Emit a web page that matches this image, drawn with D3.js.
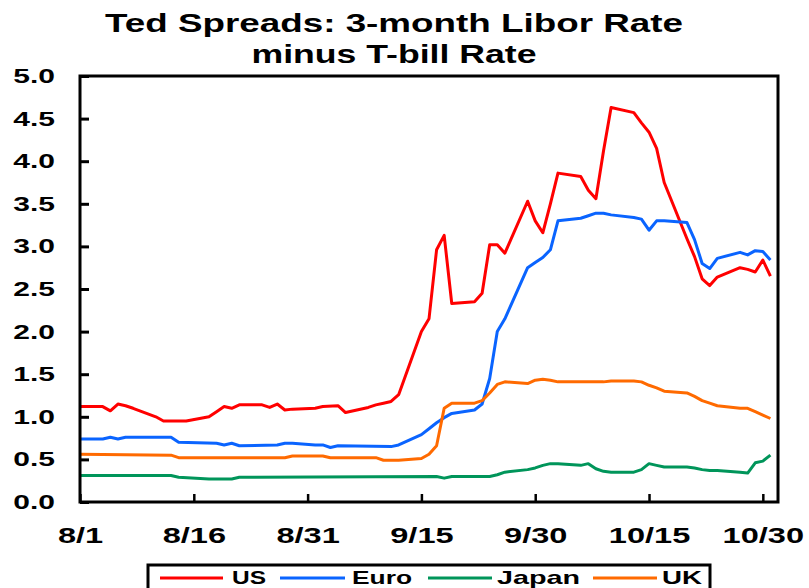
<!DOCTYPE html>
<html>
    <head>
        <meta charset="utf-8">
        <script src="https://d3js.org/d3.v7.min.js"></script>
        <style>
            body { margin: 0; background: #fff; }
            text { font-family: "Liberation Sans", Arial, sans-serif; font-weight: bold; }
        </style>
    </head>
    <body>
        <svg width="809" height="588"></svg>
        <script>
            // Values (business days, 2008)
            var usDates = ["8/1","8/4","8/5","8/6","8/7","8/8","8/11","8/12","8/15","8/18","8/19","8/20","8/21","8/22",
                "8/25","8/26","8/27","8/28","8/29","9/1","9/2","9/4","9/5","9/8","9/9","9/10","9/11","9/12",
                "9/15","9/16","9/17","9/18","9/19","9/22","9/23","9/24","9/25","9/26","9/29","9/30","10/1","10/2","10/3",
                "10/6","10/7","10/8","10/9","10/10","10/13","10/14","10/15","10/16","10/17","10/20","10/21","10/22","10/23","10/24",
                "10/27","10/28","10/29","10/30","10/31"];
            var usValues = [1.12,1.12,1.07,1.15,1.13,1.10,1.00,0.95,0.95,1.00,1.06,1.12,1.10,1.14,
                1.14,1.11,1.15,1.08,1.09,1.10,1.12,1.13,1.05,1.11,1.14,1.16,1.18,1.26,
                2.00,2.15,2.96,3.13,2.33,2.35,2.45,3.02,3.02,2.92,3.53,3.30,3.16,3.50,3.86,
                3.82,3.66,3.56,4.12,4.63,4.57,4.45,4.34,4.15,3.75,3.09,2.88,2.62,2.54,2.64,
                2.75,2.73,2.70,2.84,2.65];

            var euroDates = ["8/1","8/4","8/5","8/6","8/7","8/13","8/14","8/19","8/20","8/21","8/22","8/27","8/28","8/29",
                "9/1","9/2","9/3","9/4","9/11","9/12","9/15","9/16","9/17","9/18","9/19","9/22","9/23","9/24","9/25","9/26",
                "9/29","9/30","10/1","10/2","10/3","10/6","10/7","10/8","10/9","10/10","10/13","10/14","10/15","10/16","10/17",
                "10/20","10/21","10/22","10/23","10/24","10/27","10/28","10/29","10/30","10/31"];
            var euroValues = [0.74,0.74,0.76,0.74,0.76,0.76,0.70,0.69,0.67,0.69,0.66,0.67,0.69,0.69,
                0.67,0.67,0.64,0.66,0.65,0.67,0.79,0.86,0.93,0.99,1.04,1.08,1.15,1.45,2.00,2.15,
                2.75,2.81,2.87,2.96,3.30,3.33,3.36,3.39,3.39,3.37,3.34,3.32,3.19,3.30,3.30,
                3.28,3.08,2.80,2.74,2.86,2.93,2.90,2.95,2.94,2.84];

            var japanDates = ["8/1","8/13","8/14","8/18","8/21","8/22","9/17","9/18","9/19","9/24","9/25","9/26",
                "9/29","9/30","10/1","10/2","10/3","10/6","10/7","10/8","10/9","10/10","10/13","10/14","10/15","10/16","10/17",
                "10/20","10/21","10/22","10/23","10/24","10/27","10/28","10/29","10/30","10/31"];
            var japanValues = [0.31,0.31,0.29,0.27,0.27,0.29,0.30,0.28,0.30,0.30,0.32,0.35,
                0.38,0.40,0.43,0.45,0.45,0.43,0.45,0.39,0.36,0.35,0.35,0.38,0.45,0.43,0.41,
                0.41,0.40,0.38,0.37,0.37,0.35,0.34,0.46,0.48,0.55];

            var ukDates = ["8/1","8/13","8/14","8/28","8/29","9/2","9/3","9/9","9/10","9/12","9/15","9/16","9/17","9/18","9/19",
                "9/22","9/23","9/24","9/25","9/26","9/29","9/30","10/1","10/2","10/3","10/9","10/10","10/13","10/14","10/15","10/16","10/17",
                "10/20","10/21","10/22","10/23","10/24","10/27","10/28","10/29","10/30","10/31"];
            var ukValues = [0.56,0.55,0.52,0.52,0.54,0.54,0.52,0.52,0.49,0.49,0.51,0.56,0.66,1.10,1.16,
                1.16,1.19,1.28,1.38,1.41,1.39,1.43,1.44,1.43,1.41,1.41,1.42,1.42,1.41,1.37,1.34,1.30,
                1.28,1.24,1.19,1.16,1.13,1.10,1.10,1.06,1.02,0.98];

            var seriesNames = ["US", "Euro", "Japan", "UK"];
            var seriesColors = ["#ff0000", "#0a64ff", "#00955a", "#ff6a00"];
            var xTickLabels = ["8/1","8/16","8/31","9/15","9/30","10/15","10/30"];
            var yTicks = [0, 0.5, 1, 1.5, 2, 2.5, 3, 3.5, 4, 4.5, 5];

            var parseDate = d3.timeParse("%m/%d/%Y");
            function toDate(s) { return parseDate(s + "/2008"); }

            // plot box
            var plotLeft = 80, plotRight = 778, plotTop = 76, plotBottom = 502;
            var x = d3.scaleTime().domain([toDate("8/1"), toDate("11/1")]).range([plotLeft, plotRight]);
            var y = d3.scaleLinear().domain([0, 5]).range([plotBottom, plotTop]);
            var svg = d3.select("svg");

            // title
            svg.append("text").attr("x", 394).attr("y", 32).attr("text-anchor", "middle")
                .attr("font-size", 26).attr("textLength", 578).attr("lengthAdjust", "spacingAndGlyphs")
                .text("Ted Spreads: 3-month Libor Rate");
            svg.append("text").attr("x", 394).attr("y", 63).attr("text-anchor", "middle")
                .attr("font-size", 26).attr("textLength", 285).attr("lengthAdjust", "spacingAndGlyphs")
                .text("minus T-bill Rate");

            // y axis, ticks pointing inward, labels stretched wide
            var yAxis = svg.append("g").attr("transform", "translate(" + plotLeft + ",0)")
                .call(d3.axisLeft(y).tickValues(yTicks).tickSize(-9).tickPadding(25).tickFormat(d3.format(".1f")));
            yAxis.select(".domain").remove();
            yAxis.selectAll(".tick line").attr("stroke", "#000").attr("stroke-width", 3);
            yAxis.selectAll(".tick text")
                .attr("font-family", "Liberation Sans, Arial, sans-serif").attr("font-size", 20)
                .attr("fill", "#000").attr("x", -25 / 1.5).attr("transform", "scale(1.5,1)");

            // x axis
            var xAxis = svg.append("g").attr("transform", "translate(0," + plotBottom + ")")
                .call(d3.axisBottom(x).tickValues(xTickLabels.map(toDate)).tickSize(-8).tickPadding(25)
                    .tickFormat(d3.timeFormat("%-m/%-d")));
            xAxis.select(".domain").remove();
            xAxis.selectAll(".tick line").attr("stroke", "#000").attr("stroke-width", 2.5);
            xAxis.selectAll(".tick text")
                .attr("font-family", "Liberation Sans, Arial, sans-serif").attr("font-size", 22)
                .attr("fill", "#000").attr("transform", "scale(1.48,1)");

            // lines
            var allDates = [usDates, euroDates, japanDates, ukDates];
            var allValues = [usValues, euroValues, japanValues, ukValues];
            var line = d3.line().x(function (d) { return x(d[0]); }).y(function (d) { return y(d[1]); });
            for (var i = 0; i < 4; i++) {
                var pts = allDates[i].map(function (s, j) { return [toDate(s), allValues[i][j]]; });
                svg.append("path").datum(pts)
                    .attr("fill", "none").attr("stroke", seriesColors[i]).attr("stroke-width", 3)
                    .attr("stroke-linejoin", "round")
                    .attr("d", line);
            }

            // frame
            svg.append("rect").attr("x", plotLeft).attr("y", plotTop)
                .attr("width", plotRight - plotLeft).attr("height", plotBottom - plotTop)
                .attr("fill", "none").attr("stroke", "#000").attr("stroke-width", 3);

            // legend
            var legendLine = [[160, 223], [280, 345], [428, 492], [593, 657]];
            var legendText = [[232, 34], [352, 60], [497, 83], [662, 40]];
            svg.append("rect").attr("x", 148).attr("y", 565).attr("width", 562).attr("height", 40)
                .attr("fill", "#fff").attr("stroke", "#000").attr("stroke-width", 3);
            seriesNames.forEach(function (name, i) {
                svg.append("line").attr("x1", legendLine[i][0]).attr("x2", legendLine[i][1])
                    .attr("y1", 578).attr("y2", 578)
                    .attr("stroke", seriesColors[i]).attr("stroke-width", 3);
                svg.append("text").attr("x", legendText[i][0]).attr("y", 584)
                    .attr("font-size", 19).attr("textLength", legendText[i][1])
                    .attr("lengthAdjust", "spacingAndGlyphs").text(name);
            });
        </script>
    </body>
</html>
